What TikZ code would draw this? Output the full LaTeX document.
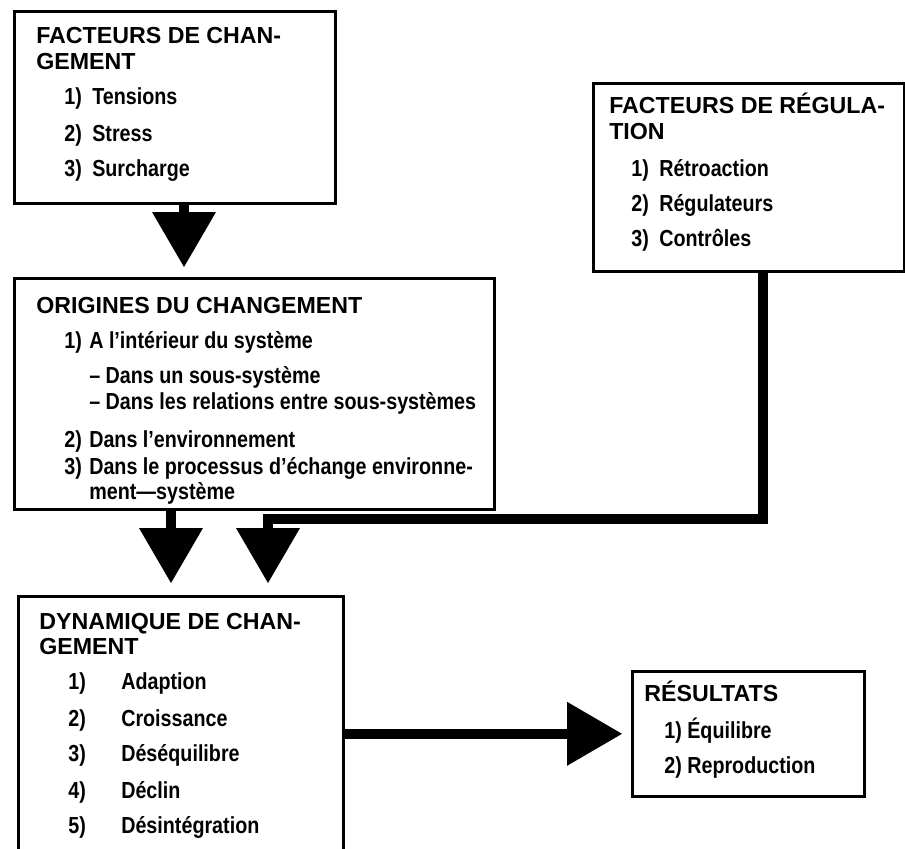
\documentclass[tikz,border=0pt]{standalone}
\usepackage{fontspec}
\setmainfont{Liberation Sans}
\newfontfamily\etroit{Liberation Sans}[FakeStretch=0.85]
\usetikzlibrary{arrows.meta}
\newcommand\haut[1]{\rule{0pt}{#1}}
\newcommand\bas[1]{\rule[-#1]{0pt}{#1}}
\newcommand\num[2]{\makebox[#1][l]{#2}}
\begin{document}
\begin{tikzpicture}[x=0.5pt,y=-0.5pt,>={Triangle[width=32pt,length=27.5pt,line width=0pt]},
  font=\bfseries\fontsize{11.6}{13}\selectfont,
  boite/.style={draw,line width=1.3pt,anchor=north west,align=flush left,inner xsep=6pt,inner ysep=0pt},
  fleche/.style={->,line width=5pt}]
\useasboundingbox (0,0) rectangle (905,848);
\clip (0,0) rectangle (905,848);
%	\draw[color=gray!50,dashed] (0,0) grid[step=50] (905,848);
\node[boite,text width=148.5pt] (fc) at (13,10) {\haut{16pt}\hspace*{5pt}\mbox{FACTEURS DE CHAN-}\\
  \hspace*{5pt}GEMENT\\[4.5pt]
  \etroit\hspace*{19pt}\num{14pt}{1)}Tensions\\[5.5pt]
  \hspace*{19pt}\num{14pt}{2)}Stress\\[4.5pt]
  \hspace*{19pt}\num{14pt}{3)}Surcharge\bas{13.5pt}};
\node[boite,text width=143.5pt] (fr) at (592,82) {\haut{15pt}\hspace*{2pt}\mbox{FACTEURS DE RÉGULA-}\\
  \hspace*{2pt}TION\\[5.5pt]
  \etroit\hspace*{13pt}\num{14pt}{1)}Rétroaction\\[4.5pt]
  \hspace*{13pt}\num{14pt}{2)}Régulateurs\\[4.5pt]
  \hspace*{13pt}\num{14pt}{3)}Contrôles\bas{12.5pt}};
\node[boite,text width=228pt] (orig) at (13,277) {\haut{17.5pt}\hspace*{5pt}\mbox{ORIGINES DU CHANGEMENT}\\[4.5pt]
  \etroit\hspace*{19pt}\num{12.5pt}{1)}\mbox{A l’intérieur du système}\\[4.5pt]
  \hspace*{31.5pt}\mbox{– Dans un sous-système}\\
  \hspace*{31.5pt}\mbox{– Dans les relations entre sous-systèmes}\\[6pt]
  \hspace*{19pt}\num{12.5pt}{2)}\mbox{Dans l’environnement}\\[0.5pt]
  \hspace*{19pt}\num{12.5pt}{3)}\mbox{Dans le processus d’échange environne-}\\[-0.5pt]
  \hspace*{31.5pt}\mbox{ment—système}\bas{5pt}};
% boite ouverte en bas
\node[boite,text width=150.5pt] (dyn) at (17,595) {\haut{16.5pt}\hspace*{4.5pt}\mbox{DYNAMIQUE DE CHAN-}\\[-0.5pt]
  \hspace*{4.5pt}GEMENT\\[4.5pt]
  \etroit\hspace*{19pt}\num{26.5pt}{1)}Adaption\\[5.5pt]
  \hspace*{19pt}\num{26.5pt}{2)}Croissance\\[4.5pt]
  \hspace*{19pt}\num{26.5pt}{3)}Déséquilibre\\[5.5pt]
  \hspace*{19pt}\num{26.5pt}{4)}Déclin\\[4.5pt]
  \hspace*{19pt}\num{26.5pt}{5)}Désintégration\bas{20pt}};
\node[boite,text width=104pt] (res) at (631,670) {\haut{15pt}RÉSULTATS\\[5.5pt]
  \etroit\hspace*{10pt}1) Équilibre\\[4.5pt]
  \hspace*{10pt}2) Reproduction\bas{11.5pt}};
% fleches
\coordinate (a1) at ([xshift=85.5pt]fc.south west);
\coordinate (a2) at ([xshift=79pt]orig.south west);
\coordinate (a3) at ([xshift=85.5pt]fr.south west);
\coordinate (a4) at ([xshift=127.5pt,yshift=-4pt]orig.south west);
\draw[fleche,shorten >=5pt] (a1)--(a1 |- orig.north);
\draw[fleche,shorten >=6pt] (a2)--(a2 |- dyn.north);
\draw[fleche,shorten >=6pt] (a3) |- (a4)--(a4 |- dyn.north);
\draw[fleche,shorten >=4.5pt] (dyn.east |- res.west)--(res.west);
\end{tikzpicture}
\end{document}
